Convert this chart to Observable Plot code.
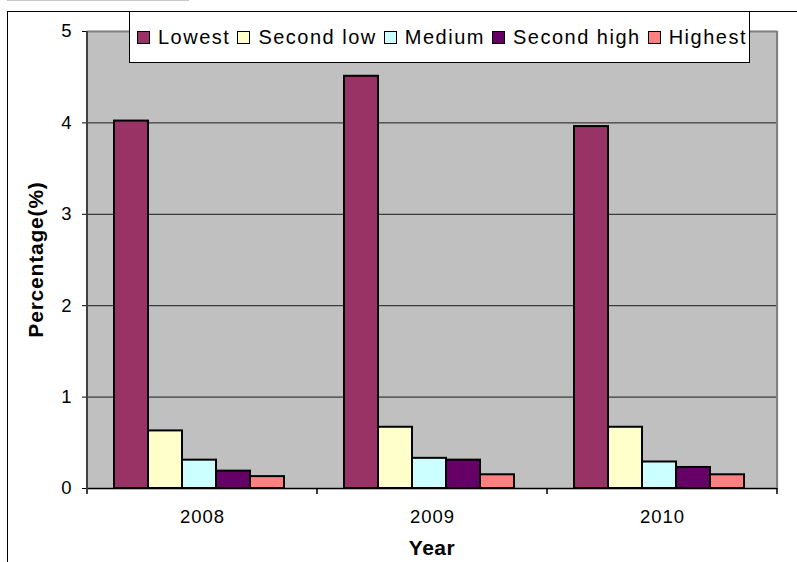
<!DOCTYPE html>
<html>
<head>
<meta charset="utf-8">
<script src="https://cdn.jsdelivr.net/npm/d3@7"></script>
<script src="https://cdn.jsdelivr.net/npm/@observablehq/plot@0.6"></script>
<style>
  html, body { margin: 0; padding: 0; background: #fff; }
  body { width: 797px; height: 562px; position: relative; overflow: hidden;
         font-family: "Liberation Sans", Arial, sans-serif; }
  #border { position: absolute; left: 7px; top: 11px; width: 900px; height: 700px;
            border-left: 1.5px solid #000; border-top: 1.5px solid #000; }
  #topline { position: absolute; left: 7px; top: 0; width: 182px; height: 0;
             border-top: 1px solid #c8c8c8; }
  #chart { position: absolute; left: 0; top: 0; }
  #legend { position: absolute; left: 129px; top: 11px; width: 612px; height: 50px;
            background: #fff; border: 1.5px solid #000; display: flex; align-items: center;
            padding-left: 7px; box-sizing: content-box; white-space: nowrap; overflow: visible; }
  .item { display: flex; align-items: center; margin-right: 7px; flex: none; }
  .swatch { width: 11px; height: 11px; border: 1px solid #000; margin-right: 8px; flex: none; }
  .item span { font-size: 20px; letter-spacing: 1.5px; color: #000; white-space: nowrap; }
</style>
</head>
<body>
<div id="topline"></div>
<div id="border"></div>
<div id="chart"></div>
<div id="legend"></div>
<script>
// Income groups and their share (%) per year
const years = ["2008", "2009", "2010"];
const series = ["Lowest", "Second low", "Medium", "Second high", "Highest"];
const lowest = [4.02, 4.51, 3.96];
const secondLow = [0.63, 0.67, 0.67];
const medium = [0.31, 0.33, 0.29];
const secondHigh = [0.19, 0.31, 0.23];
const highest = [0.13, 0.15, 0.15];
const yTicks = [0, 1, 2, 3, 4, 5];

const palette = ["#993366", "#FFFFCC", "#CCFFFF", "#660066", "#FF8080"];

const bySeries = [lowest, secondLow, medium, secondHigh, highest];
const rows = years.flatMap((year, i) =>
  series.map((s, j) => ({year, series: s, value: bySeries[j][i]})));

const chart = Plot.plot({
  width: 797,
  height: 562,
  marginLeft: 87,
  marginRight: 20,
  marginTop: 31,
  marginBottom: 74,
  style: {
    background: "transparent",
    fontFamily: "'Liberation Sans', Arial, sans-serif",
    fontSize: "18.5px",
    color: "#000",
    letterSpacing: "1px",
    overflow: "visible"
  },
  facet: {data: rows, x: "year"},
  fx: {domain: years, padding: 0, label: null, tickSize: 0, tickPadding: 21},
  x: {domain: series, paddingInner: 0, paddingOuter: 0.786, align: 0.45, axis: null},
  y: {domain: [0, 5], ticks: yTicks, tickSize: 5, tickPadding: 10, tickFormat: "d", label: null},
  color: {domain: series, range: palette},
  marks: [
    Plot.frame({fill: "#C0C0C0", stroke: "#C0C0C0", strokeWidth: 1.5}),
    Plot.ruleY([1, 2, 3, 4], {stroke: "#1a1a1a", strokeWidth: 1}),
    Plot.ruleY([5], {stroke: "#808080", strokeWidth: 2}),
    Plot.barY(rows, {x: "series", y: "value", fill: "series", stroke: "#000", strokeWidth: 2}),
    Plot.ruleY([0], {stroke: "#000", strokeWidth: 1.5})
  ]
});

// Plot-area edges, category separators and axis titles, placed with the plot's own scales
const fx = chart.scale("fx");
const ys = chart.scale("y");
const band = fx.bandwidth ?? (fx.range[1] - fx.range[0]) / fx.domain.length;
const edges = [...years.map(y => fx.apply(y)), fx.apply(years[years.length - 1]) + band];
const y0 = ys.apply(0), y5 = ys.apply(5);
const left = edges[0], right = edges[edges.length - 1];

const g = d3.select(chart).append("g");
g.append("line").attr("x1", right).attr("x2", right).attr("y1", y5).attr("y2", y0)
  .attr("stroke", "#808080").attr("stroke-width", 2);
g.append("line").attr("x1", left).attr("x2", left).attr("y1", y5).attr("y2", y0 + 6)
  .attr("stroke", "#404040").attr("stroke-width", 2);
g.selectAll("line.sep").data(edges.slice(1)).join("line")
  .attr("x1", d => d).attr("x2", d => d).attr("y1", y0).attr("y2", y0 + 6)
  .attr("stroke", "#000").attr("stroke-width", 1.5);

g.append("text")
  .attr("x", (left + right) / 2).attr("y", 555)
  .attr("text-anchor", "middle").attr("font-weight", "bold").attr("font-size", 21)
  .style("letter-spacing", "0.5px")
  .text("Year");
g.append("text")
  .attr("transform", `translate(43,${(y0 + y5) / 2}) rotate(-90)`)
  .attr("text-anchor", "middle").attr("font-weight", "bold").attr("font-size", 21)
  .style("letter-spacing", "0.8px")
  .text("Percentage(%)");

document.getElementById("chart").appendChild(chart);

// Legend
const legend = d3.select("#legend");
series.forEach((s, i) => {
  const item = legend.append("div").attr("class", "item");
  item.append("div").attr("class", "swatch").style("background", palette[i]);
  item.append("span").text(s);
});
</script>
</body>
</html>
